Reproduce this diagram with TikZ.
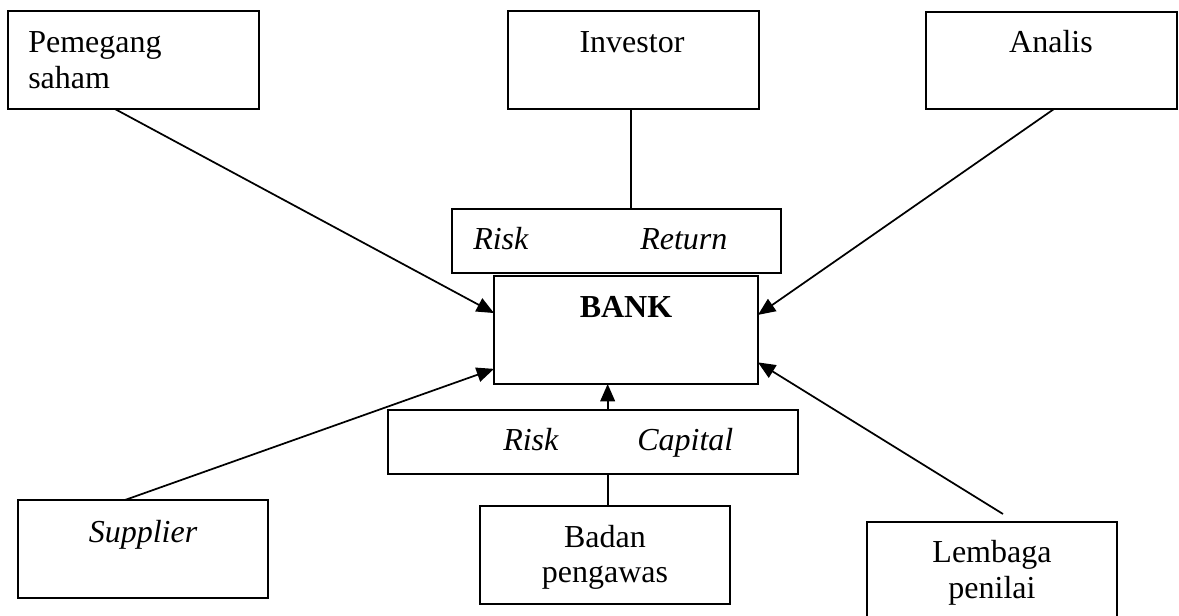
\documentclass[tikz,border=0pt]{standalone}
\usepackage{fontspec}
\setmainfont{Liberation Serif}
\usetikzlibrary{fit,calc,arrows.meta}
\tikzset{
  box/.style={draw, line width=1.4pt, inner sep=0pt, outer sep=0pt, fit={#1}},
  txt/.style={inner sep=0pt, font=\fontsize{24}{27}\selectfont},
  conn/.style={line width=1.3pt},
  arr/.style={conn, -{Triangle[length=13pt,width=11pt]}},
}
\begin{document}
\begin{tikzpicture}[x=0.75pt,y=-0.75pt]
\useasboundingbox (0,0) rectangle (1179,616);
% boxes
\node[box={(8,11) (259,109)}] (ps) {};
\node[box={(508,11) (759,109)}] (inv) {};
\node[box={(926,12) (1177,109)}] (an) {};
\node[box={(452,209) (781,273)}] (rr) {};
\node[box={(494,276) (758,384)}] (bank) {};
\node[box={(388,410) (798,474)}] (rc) {};
\node[box={(18,500) (268,598)}] (sup) {};
\node[box={(480,506) (730,604)}] (bp) {};
\node[box={(867,522) (1117,640)}] (lp) {};
% texts
\node[txt, anchor=base west] (t1) at (28,53) {Pemegang};
\node[txt, anchor=base west] (t2) at (28,89) {saham};
\node[txt, anchor=base] (t3) at (632,53) {Investor};
\node[txt, anchor=base] (t4) at (1051,53) {Analis};
\node[txt, anchor=base west] (t5) at (473,250) {\itshape Risk};
\node[txt, anchor=base west] (t6) at (640,250) {\itshape Return};
\node[txt, anchor=base] (t7) at (626,318) {\bfseries BANK};
\node[txt, anchor=base west] (t8) at (503,451) {\itshape Risk};
\node[txt, anchor=base west] (t9) at (637,451) {\itshape Capital};
\node[txt, anchor=base] (t10) at (605,547) {Badan};
\node[txt, anchor=base] (t11) at (605,583) {pengawas};
\node[txt, anchor=base] (t12) at (143,542) {\itshape Supplier};
\node[txt, anchor=base] (t13) at (992,563) {Lembaga};
\node[txt, anchor=base] (t14) at (992,599) {penilai};
% connectors
\draw[arr] ($(ps.south west)!0.426!(ps.south east)$) -- ($(bank.north west)!0.343!(bank.south west)$);
\draw[arr] ($(an.south west)!0.51!(an.south east)$) -- ($(bank.north east)!0.36!(bank.south east)$);
\draw[arr] ($(sup.north west)!0.428!(sup.north east)$) -- ($(bank.north west)!0.86!(bank.south west)$);
\coordinate (lpstart) at ($(lp.north west)!0.544!(lp.north east)+(0,-8)$);
\draw[arr] (lpstart) -- ($(bank.north east)!0.80!(bank.south east)$);
\draw[conn] ([xshift=-2]inv.south) -- ([xshift=-2]inv.south |- rr.north);
\draw[conn] ([xshift=2]bp.north) -- ([xshift=2]bp.north |- rc.south);
\draw[arr] ([xshift=2]bp.north |- rc.north) -- ([xshift=2]bp.north |- bank.south);
\end{tikzpicture}
\end{document}
